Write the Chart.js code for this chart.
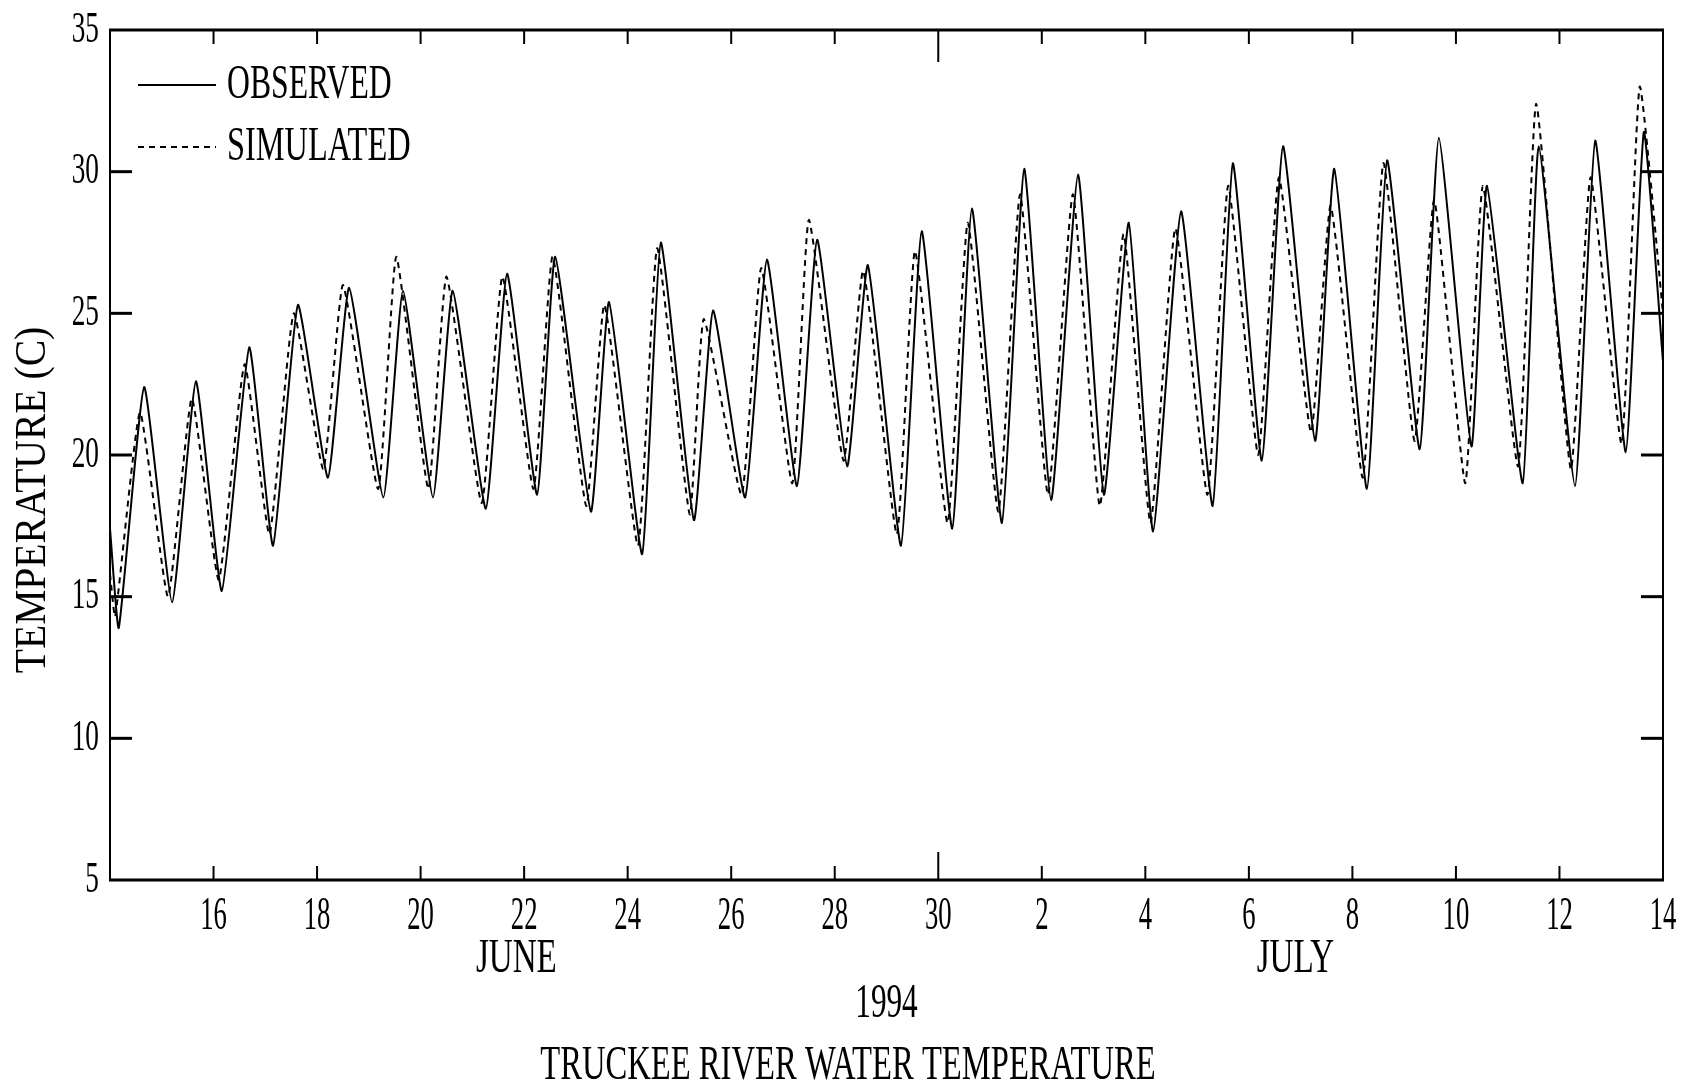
<!DOCTYPE html>
<html>
<head>
<meta charset="utf-8">
<script src="https://cdn.jsdelivr.net/npm/chart.js@4.4.1/dist/chart.umd.min.js"></script>
<style>
  body { margin: 0; background: #fff; }
  canvas { display: block; }
</style>
</head>
<body>
<canvas id="tempChart" width="1693" height="1086"></canvas>
<script>
// days counted from June 14 00:00, 1994
const obsDays = [0.00, 0.17, 0.66, 1.20, 1.66, 2.16, 2.69, 3.15, 3.63, 4.21, 4.62, 5.28, 5.66, 6.24, 6.62,
  7.26, 7.67, 8.25, 8.60, 9.29, 9.64, 10.28, 10.64, 11.28, 11.65, 12.27, 12.69, 13.27, 13.66, 14.24, 14.64,
  15.28, 15.68, 16.27, 16.65, 17.23, 17.66, 18.18, 18.70, 19.20, 19.68, 20.15, 20.69, 21.30, 21.69, 22.25,
  22.66, 23.28, 23.65, 24.28, 24.67, 25.30, 25.67, 26.30, 26.60, 27.29, 27.60, 28.30, 28.69, 29.28, 29.63, 30.00];
const obsTemps = [17.4, 13.9, 22.4, 14.8, 22.6, 15.2, 23.8, 16.8, 25.3, 19.2, 25.9, 18.5, 25.8, 18.5, 25.8,
  18.1, 26.4, 18.6, 27.0, 18.0, 25.4, 16.5, 27.5, 17.7, 25.1, 18.5, 26.9, 18.9, 27.6, 19.6, 26.7,
  16.8, 27.9, 17.4, 28.7, 17.6, 30.1, 18.4, 29.9, 18.6, 28.2, 17.3, 28.6, 18.2, 30.3, 19.8,
  30.9, 20.5, 30.1, 18.8, 30.4, 20.2, 31.2, 20.3, 29.5, 19.0, 30.9, 18.9, 31.1, 20.1, 31.4, 23.3];

const simDays = [0.00, 0.10, 0.58, 1.12, 1.58, 2.10, 2.60, 3.08, 3.55, 4.12, 4.50, 5.18, 5.53, 6.15, 6.50,
  7.18, 7.58, 8.18, 8.55, 9.20, 9.55, 10.20, 10.57, 11.20, 11.47, 12.20, 12.58, 13.18, 13.50, 14.17, 14.55,
  15.20, 15.55, 16.18, 16.57, 17.16, 17.58, 18.12, 18.60, 19.12, 19.58, 20.10, 20.58, 21.20, 21.60, 22.18,
  22.58, 23.20, 23.58, 24.20, 24.60, 25.20, 25.58, 26.18, 26.52, 27.20, 27.55, 28.22, 28.60, 29.20, 29.55, 30.00];
const simTemps = [15.8, 14.3, 21.5, 15.0, 22.0, 15.6, 23.2, 17.2, 25.0, 19.5, 26.0, 18.8, 27.0, 18.8, 26.3,
  18.3, 26.3, 18.8, 27.0, 18.2, 25.3, 16.8, 27.3, 17.9, 24.8, 18.6, 26.6, 19.0, 28.3, 19.8, 26.5,
  17.2, 27.2, 17.6, 28.2, 18.0, 29.2, 18.6, 29.2, 18.2, 27.8, 17.6, 28.0, 18.6, 29.5, 20.0,
  29.8, 20.8, 28.8, 19.2, 30.3, 20.5, 29.0, 19.0, 29.5, 19.6, 32.4, 19.5, 29.8, 20.4, 33.0, 25.0];

const xTickDays = [2, 4, 6, 8, 10, 12, 14, 16, 18, 20, 22, 24, 26, 28, 30];
const xTickLabels = ['16', '18', '20', '22', '24', '26', '28', '30', '2', '4', '6', '8', '10', '12', '14'];
const yTicks = [5, 10, 15, 20, 25, 30, 35];
const monthNames = ['JUNE', 'JULY'];
const monthMid = [7.85, 22.9];
const seriesNames = ['OBSERVED', 'SIMULATED'];

const FONT = "'Liberation Serif', 'Times New Roman', serif";
const DASH = [6, 5];

function drawText(ctx, txt, x, y, size, sx, align) {
  ctx.save();
  ctx.translate(x, y);
  ctx.scale(sx, 1);
  ctx.font = size + 'px ' + FONT;
  ctx.fillStyle = '#000';
  ctx.textAlign = align;
  ctx.textBaseline = 'middle';
  ctx.fillText(txt, 0, 0);
  ctx.restore();
}

function line(ctx, x1, y1, x2, y2, w) {
  ctx.beginPath();
  ctx.lineWidth = w;
  ctx.moveTo(x1, y1);
  ctx.lineTo(x2, y2);
  ctx.stroke();
}

const framePlugin = {
  id: 'frame',
  afterDraw(chart) {
    const ctx = chart.ctx;
    const a = chart.chartArea;
    const xs = chart.scales.x;
    const ys = chart.scales.y;
    ctx.save();
    ctx.strokeStyle = '#000';

    // box
    line(ctx, a.left - 1, a.top, a.right + 1, a.top, 3);
    line(ctx, a.left - 1, a.bottom, a.right + 1, a.bottom, 3);
    line(ctx, a.left, a.top, a.left, a.bottom, 2);
    line(ctx, a.right, a.top, a.right, a.bottom, 2);

    // y ticks, both sides, pointing in
    yTicks.forEach(v => {
      const py = ys.getPixelForValue(v);
      if (v > ys.min && v < ys.max) {
        line(ctx, a.left, py, a.left + 22, py, 3);
        line(ctx, a.right - 22, py, a.right, py, 3);
      }
      drawText(ctx, String(v), a.left - 11, py, 44, 0.62, 'right');
    });

    // x ticks, top and bottom, pointing in
    xTickDays.forEach((d, i) => {
      const px = xs.getPixelForValue(d);
      const big = xTickLabels[i] === '30';
      if (d < xs.max) {
        line(ctx, px, a.top, px, a.top + (big ? 32 : 14), 2);
        line(ctx, px, a.bottom, px, a.bottom - (big ? 28 : 14), 2);
      }
      drawText(ctx, xTickLabels[i], px, a.bottom + 37, 46, 0.58, 'center');
    });

    monthNames.forEach((m, i) => {
      drawText(ctx, m, xs.getPixelForValue(monthMid[i]), a.bottom + 79, 48, 0.69, 'center');
    });
    drawText(ctx, '1994', xs.getPixelForValue(15), a.bottom + 124, 48, 0.65, 'center');
    drawText(ctx, 'TRUCKEE RIVER WATER TEMPERATURE', 848, a.bottom + 186, 48, 0.68, 'center');

    // y axis title
    ctx.save();
    ctx.translate(33, 500);
    ctx.rotate(-Math.PI / 2);
    drawText(ctx, 'TEMPERATURE (C)', 0, 0, 44, 0.9, 'center');
    ctx.restore();

    // legend
    const ly = [85, 147];
    chart.data.datasets.forEach((ds, i) => {
      ctx.setLineDash(ds.borderDash || []);
      line(ctx, a.left + 28, ly[i], a.left + 106, ly[i], 2);
      ctx.setLineDash([]);
      drawText(ctx, seriesNames[i], a.left + 117, ly[i], 48, i === 0 ? 0.66 : 0.675, 'left');
    });
    ctx.restore();
  }
};

const toPoints = (days, temps) => days.map((d, i) => ({ x: d, y: temps[i] }));

new Chart(document.getElementById('tempChart'), {
  type: 'line',
  data: {
    datasets: [{
      label: seriesNames[0],
      data: toPoints(obsDays, obsTemps),
      borderColor: '#000',
      borderWidth: 2,
      pointRadius: 0,
      tension: 0.15
    }, {
      label: seriesNames[1],
      data: toPoints(simDays, simTemps),
      borderColor: '#000',
      borderWidth: 2,
      borderDash: DASH,
      pointRadius: 0,
      tension: 0.15
    }]
  },
  options: {
    responsive: false,
    animation: false,
    layout: { padding: { left: 110, right: 30, top: 30, bottom: 206 } },
    plugins: { legend: { display: false }, tooltip: { enabled: false } },
    scales: {
      x: { type: 'linear', min: 0, max: 30, display: false },
      y: { type: 'linear', min: 5, max: 35, display: false }
    }
  },
  plugins: [framePlugin]
});
</script>
</body>
</html>
